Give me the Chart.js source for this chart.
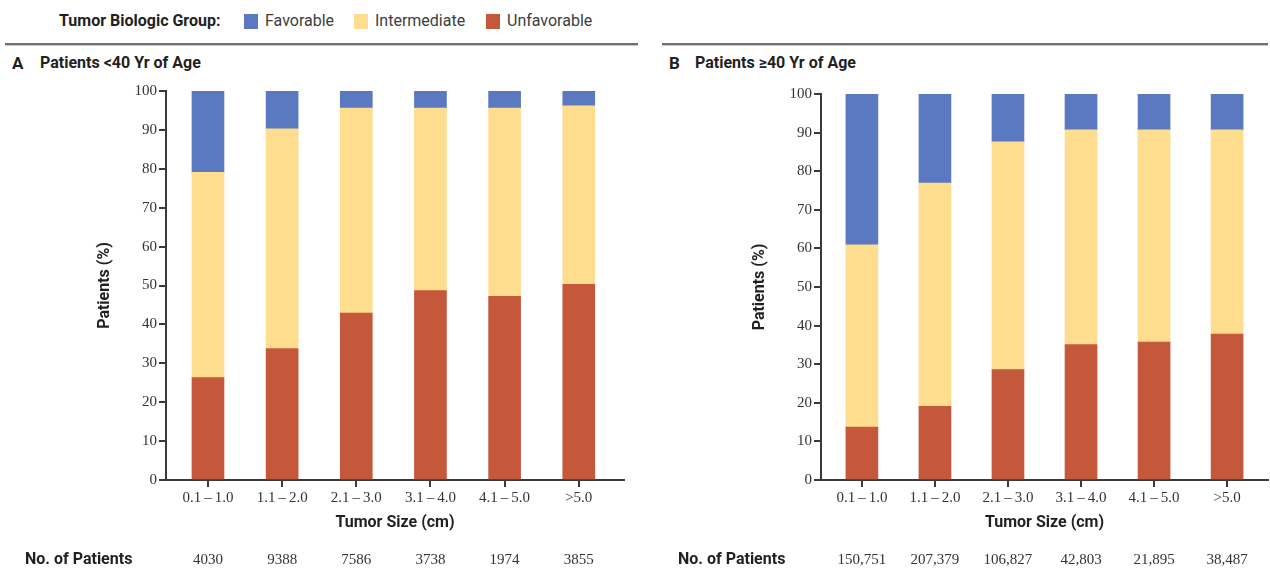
<!DOCTYPE html>
<html>
<head>
<meta charset="utf-8">
<script src="https://cdn.jsdelivr.net/npm/chart.js@4.4.1/dist/chart.umd.min.js"></script>
<style>
  body { margin: 0; background: #fff; }
  #wrap { position: relative; width: 1270px; height: 571px; overflow: hidden;
          font-family: "Roboto", sans-serif; color: #231f20; }
  .txt { position: absolute; white-space: nowrap; font-size: 16px; line-height: 18px; }
  .b { font-weight: bold; }
  .reg { color: #3d3d3d; }
  .sw { position: absolute; width: 14px; height: 15px; }
  .rule { position: absolute; top: 43px; height: 2px; background: #707070; border-bottom: 1px solid #c8c8c8; }
  canvas { position: absolute; top: 80px; }
</style>
</head>
<body>
<div id="wrap">
  <!-- group key -->
  <div class="txt b" style="left:59px;top:12px;">Tumor Biologic Group:</div>
  <div class="sw" style="left:244px;top:14px;background:#5b79c0;"></div>
  <div class="txt reg" style="left:265px;top:12px;">Favorable</div>
  <div class="sw" style="left:354px;top:14px;background:#fedd8e;"></div>
  <div class="txt reg" style="left:375px;top:12px;">Intermediate</div>
  <div class="sw" style="left:486px;top:14px;background:#c5573b;"></div>
  <div class="txt reg" style="left:507px;top:12px;">Unfavorable</div>

  <div class="rule" style="left:5px;width:633px;"></div>
  <div class="rule" style="left:662px;width:606px;"></div>

  <div class="txt b" style="left:12px;top:54px;font-size:17px;">A</div>
  <div class="txt b" style="left:40px;top:54px;">Patients &lt;40 Yr of Age</div>
  <div class="txt b" style="left:669px;top:54px;font-size:17px;">B</div>
  <div class="txt b" style="left:695px;top:54px;">Patients ≥40 Yr of Age</div>

  <canvas id="chartA" width="640" height="491" style="left:0px;width:640px;height:491px;"></canvas>
  <canvas id="chartB" width="630" height="491" style="left:640px;width:630px;height:491px;"></canvas>
</div>

<script>
// Tumour size bins (cm)
const sizeLabels = ['0.1\u2009\u2013\u20091.0', '1.1\u2009\u2013\u20092.0', '2.1\u2009\u2013\u20093.0',
                    '3.1\u2009\u2013\u20094.0', '4.1\u2009\u2013\u20095.0', '>5.0'];

// Panel A: patients < 40 years (percent of patients)
const unfavorableA  = [26.3, 33.8, 42.9, 48.7, 47.2, 50.3];
const intermediateA = [52.8, 56.5, 52.7, 46.9, 48.4, 45.9];
const favorableA    = [20.9,  9.7,  4.4,  4.4,  4.4,  3.8];
const patientsA     = ['4030', '9388', '7586', '3738', '1974', '3855'];

// Panel B: patients >= 40 years (percent of patients)
const unfavorableB  = [13.7, 19.1, 28.6, 35.1, 35.7, 37.8];
const intermediateB = [47.2, 57.8, 59.0, 55.6, 55.0, 52.9];
const favorableB    = [39.1, 23.1, 12.4,  9.3,  9.3,  9.3];
const patientsB     = ['150,751', '207,379', '106,827', '42,803', '21,895', '38,487'];

const yTicks = [0, 10, 20, 30, 40, 50, 60, 70, 80, 90, 100];

const COLORS = { favorable: '#5b79c0', intermediate: '#fedd8e', unfavorable: '#c5573b' };
const BOLD_FONT = '"Roboto", sans-serif';
const NUM_FONT = '"Liberation Serif", serif';
const AXIS_COLOR = '#3a3a3a';

// Patient counts written under each size bin
const countRow = {
  id: 'countRow',
  afterDraw(chart, args, opts) {
    const { ctx } = chart;
    const xs = chart.scales.x;
    ctx.save();
    ctx.fillStyle = '#231f20';
    ctx.textBaseline = 'middle';
    ctx.textAlign = 'left';
    ctx.font = 'bold 16px ' + BOLD_FONT;
    ctx.fillText('No. of Patients', opts.labelX, opts.y);
    ctx.font = '15px ' + NUM_FONT;
    ctx.fillStyle = '#333';
    ctx.textAlign = 'center';
    opts.counts.forEach((c, i) => ctx.fillText(c, xs.getPixelForValue(i), opts.y));
    ctx.restore();
  }
};

function toPoints(arr) { return arr.map((v, i) => ({ x: i, y: v })); }

function makeChart(id, d) {
  return new Chart(document.getElementById(id), {
    type: 'bar',
    data: {
      datasets: [
        { label: 'Unfavorable',  data: toPoints(d.unf), backgroundColor: COLORS.unfavorable },
        { label: 'Intermediate', data: toPoints(d.mid), backgroundColor: COLORS.intermediate },
        { label: 'Favorable',    data: toPoints(d.fav), backgroundColor: COLORS.favorable }
      ]
    },
    options: {
      responsive: false,
      animation: false,
      events: [],
      barThickness: 32,
      layout: { padding: d.pad },
      plugins: {
        legend: { display: false },
        tooltip: { enabled: false },
        countRow: { counts: d.counts, labelX: d.labelX, y: 480 }
      },
      scales: {
        x: {
          type: 'linear',
          stacked: true,
          offset: false,
          min: d.xMin,
          max: d.xMax,
          afterBuildTicks: (s) => { s.ticks = sizeLabels.map((_, i) => ({ value: i })); },
          afterFit: (s) => { s.height = 53; },
          ticks: {
            autoSkip: false, maxRotation: 0, padding: 2,
            color: '#333', font: { family: NUM_FONT, size: 15 },
            callback: (v) => sizeLabels[v]
          },
          grid: { offset: false, drawOnChartArea: false, drawTicks: true, tickLength: 7, color: AXIS_COLOR, lineWidth: 2 },
          border: { display: true, color: AXIS_COLOR, width: 2 },
          title: {
            display: true, text: 'Tumor Size (cm)', color: '#231f20',
            font: { family: BOLD_FONT, size: 16, weight: 'bold' }, padding: { top: 0, bottom: 0 }
          }
        },
        y: {
          stacked: true,
          min: 0,
          max: 100,
          afterBuildTicks: (s) => { s.ticks = yTicks.map(v => ({ value: v })); },
          afterFit: (s) => { s.width = 75; },
          ticks: { padding: 2, color: '#333', font: { family: NUM_FONT, size: 15 } },
          grid: { drawOnChartArea: false, drawTicks: true, tickLength: 7, color: AXIS_COLOR, lineWidth: 2 },
          border: { display: true, color: AXIS_COLOR, width: 2 },
          title: {
            display: true, text: 'Patients (%)', color: '#231f20',
            font: { family: BOLD_FONT, size: 16, weight: 'bold' }, padding: { top: 4, bottom: 0 }
          }
        }
      }
    },
    plugins: [countRow]
  });
}

makeChart('chartA', {
  unf: unfavorableA, mid: intermediateA, fav: favorableA, counts: patientsA,
  pad: { left: 91, top: 10, right: 16, bottom: 38 },
  xMin: -0.566, xMax: 5.61, labelX: 25
});

makeChart('chartB', {
  unf: unfavorableB, mid: intermediateB, fav: favorableB, counts: patientsB,
  pad: { left: 106, top: 14, right: 2, bottom: 38 },
  xMin: -0.56, xMax: 5.56, labelX: 38
});
</script>
</body>
</html>
